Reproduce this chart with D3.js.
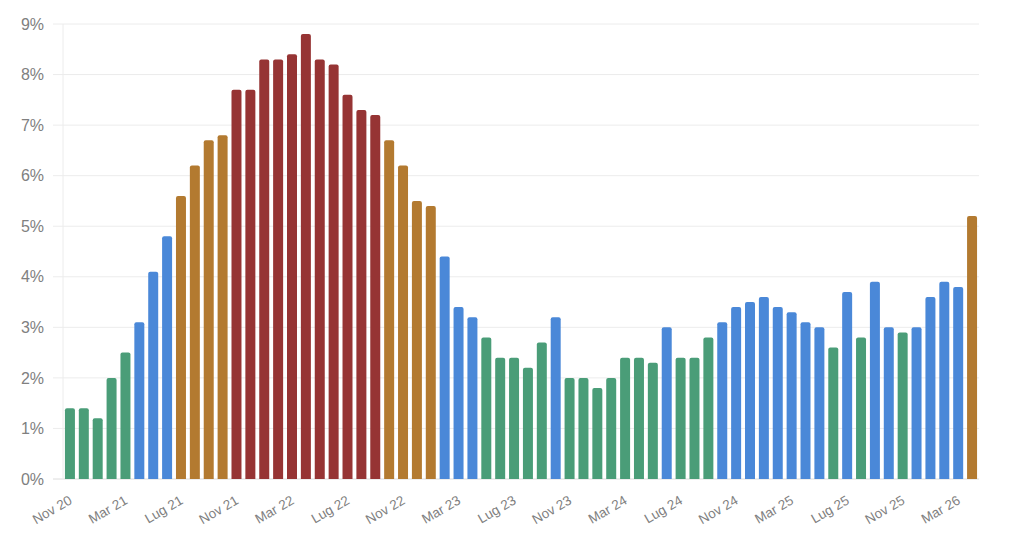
<!DOCTYPE html>
<html>
<head>
<meta charset="utf-8">
<script src="https://cdn.jsdelivr.net/npm/d3@7"></script>
<style>
  html, body { margin: 0; padding: 0; background: #fff; }
  svg { display: block; font-family: "Liberation Sans", Arial, sans-serif; }
</style>
</head>
<body>
<script>
// monthly values, Nov 2020 -> Apr 2026
const months = ['Gen', 'Feb', 'Mar', 'Apr', 'Mag', 'Giu', 'Lug', 'Ago', 'Set', 'Ott', 'Nov', 'Dic'];
const values = [
  1.4, 1.4, 1.2, 2.0, 2.5, 3.1, 4.1, 4.8, 5.6, 6.2, 6.7, 6.8,
  7.7, 7.7, 8.3, 8.3, 8.4, 8.8, 8.3, 8.2, 7.6, 7.3, 7.2, 6.7,
  6.2, 5.5, 5.4, 4.4, 3.4, 3.2, 2.8, 2.4, 2.4, 2.2, 2.7, 3.2,
  2.0, 2.0, 1.8, 2.0, 2.4, 2.4, 2.3, 3.0, 2.4, 2.4, 2.8, 3.1,
  3.4, 3.5, 3.6, 3.4, 3.3, 3.1, 3.0, 2.6, 3.7, 2.8, 3.9, 3.0,
  2.9, 3.0, 3.6, 3.9, 3.8, 5.2
];
const yTicks = [0, 1, 2, 3, 4, 5, 6, 7, 8, 9];
const thresholds = [3, 5, 7];
const palette = ['#4a9d78', '#4a88d8', '#b37a30', '#963434'];

const labels = values.map((v, i) => {
  const m = (10 + i) % 12;
  const y = 20 + Math.floor((10 + i) / 12);
  return months[m] + ' ' + y;
});

const width = 1024, height = 548;
const margin = { top: 24, right: 45, bottom: 69, left: 63 };

const svg = d3.select('body').append('svg')
  .attr('width', width)
  .attr('height', height);

const x = d3.scaleBand()
  .domain(labels)
  .range([margin.left, width - margin.right])
  .paddingInner(0.28)
  .paddingOuter(0.14);

const y = d3.scaleLinear()
  .domain([0, 9])
  .range([height - margin.bottom, margin.top]);

const color = d3.scaleThreshold().domain(thresholds).range(palette);

// grid
svg.append('g')
  .selectAll('line')
  .data(yTicks)
  .join('line')
  .attr('x1', margin.left - 10)
  .attr('x2', width - margin.right)
  .attr('y1', d => y(d))
  .attr('y2', d => y(d))
  .attr('stroke', d => d === 0 ? '#dcdcdc' : '#ececec')
  .attr('stroke-width', 1);

svg.append('line')
  .attr('x1', margin.left).attr('x2', margin.left)
  .attr('y1', margin.top).attr('y2', height - margin.bottom)
  .attr('stroke', '#ececec');

// y labels
const yAxis = svg.append('g')
  .attr('transform', `translate(${margin.left - 16},0)`)
  .call(d3.axisLeft(y).tickValues(yTicks).tickSize(0).tickFormat(d => d + '%'));
yAxis.select('.domain').remove();
yAxis.selectAll('text')
  .attr('fill', '#808080')
  .attr('font-size', 16)
  .attr('dx', 0);

// bars
svg.append('g')
  .selectAll('path')
  .data(values)
  .join('path')
  .attr('fill', d => color(d))
  .attr('d', (d, i) => {
    const x0 = x(labels[i]), w = x.bandwidth();
    const y0 = y(d), y1 = y(0), r = 2;
    return `M${x0},${y1}V${y0 + r}Q${x0},${y0} ${x0 + r},${y0}H${x0 + w - r}Q${x0 + w},${y0} ${x0 + w},${y0 + r}V${y1}Z`;
  });

// x labels, every 4 months
const xAxis = svg.append('g')
  .attr('transform', `translate(0,${height - margin.bottom})`)
  .call(d3.axisBottom(x).tickValues(labels.filter((d, i) => i % 4 === 0)).tickSize(0));
xAxis.select('.domain').remove();
xAxis.selectAll('text')
  .attr('fill', '#808080')
  .attr('font-size', 13.5)
  .attr('text-anchor', 'end')
  .attr('transform', 'translate(3,24) rotate(-30)')
  .attr('dy', 0)
  .attr('y', 0);
</script>
</body>
</html>
